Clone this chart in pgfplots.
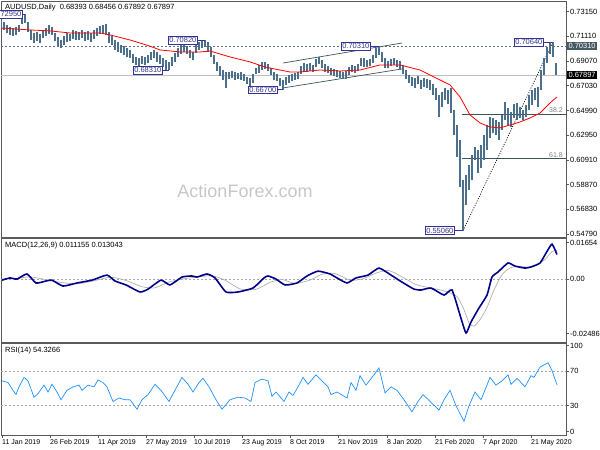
\documentclass[border=0pt]{standalone}
\usepackage{fontspec}
\setmainfont{Liberation Sans}
\usepackage{pgfplots}
\pgfplotsset{compat=1.18}
\usepackage{pgfplotstable}

\definecolor{barc}{RGB}{76,112,140}
\definecolor{frame}{RGB}{90,90,90}
\definecolor{lvl}{RGB}{96,112,128}
\definecolor{chan}{RGB}{60,85,90}
\definecolor{lblb}{RGB}{51,51,160}
\definecolor{lblt}{RGB}{55,55,130}
\definecolor{macdc}{RGB}{0,0,139}
\definecolor{sigc}{RGB}{175,175,175}
\definecolor{rsic}{RGB}{30,144,255}
\definecolor{slate}{RGB}{70,90,100}

% daily bars, low / high
\pgfplotstableread{
x lo hi
1 0.7180 0.7246
4 0.7164 0.7230
7 0.7139 0.7205
10 0.7123 0.7189
13 0.7114 0.7180
16 0.7123 0.7189
19 0.7147 0.7205
22 0.7213 0.7288
25 0.7222 0.7295
28 0.7147 0.7230
31 0.7081 0.7164
34 0.7056 0.7139
37 0.7073 0.7147
40 0.7056 0.7131
43 0.7098 0.7164
46 0.7114 0.7180
49 0.7131 0.7205
52 0.7123 0.7189
55 0.7073 0.7139
58 0.7032 0.7106
61 0.7015 0.7081
64 0.7040 0.7114
67 0.7065 0.7139
70 0.7073 0.7131
73 0.7090 0.7164
76 0.7081 0.7156
79 0.7081 0.7147
82 0.7098 0.7164
85 0.7073 0.7147
88 0.7081 0.7156
91 0.7065 0.7139
94 0.7090 0.7164
97 0.7114 0.7180
100 0.7131 0.7197
103 0.7139 0.7205
106 0.7123 0.7213
109 0.7056 0.7147
112 0.7040 0.7114
115 0.6999 0.7081
118 0.6982 0.7065
121 0.6974 0.7040
124 0.6957 0.7032
127 0.6941 0.7015
130 0.6933 0.6999
133 0.6891 0.6966
136 0.6875 0.6941
139 0.6867 0.6933
142 0.6883 0.6949
145 0.6875 0.6941
148 0.6891 0.6957
151 0.6916 0.6982
154 0.6933 0.6999
157 0.6900 0.6982
160 0.6883 0.6957
163 0.6858 0.6933
166 0.6833 0.6916
169 0.6831 0.6900
172 0.6867 0.6941
175 0.6900 0.6974
178 0.6941 0.7015
181 0.6966 0.7040
184 0.6982 0.7048
187 0.6966 0.7032
190 0.6933 0.6999
193 0.6916 0.6982
196 0.6974 0.7040
199 0.6999 0.7065
202 0.7015 0.7081
205 0.7023 0.7082
208 0.6982 0.7065
211 0.6941 0.7023
214 0.6883 0.6957
217 0.6825 0.6900
220 0.6784 0.6867
223 0.6751 0.6833
226 0.6685 0.6817
229 0.6759 0.6817
232 0.6767 0.6825
235 0.6751 0.6817
238 0.6759 0.6809
241 0.6751 0.6817
244 0.6743 0.6800
247 0.6718 0.6776
250 0.6701 0.6767
253 0.6726 0.6800
256 0.6800 0.6850
259 0.6809 0.6875
262 0.6833 0.6900
265 0.6842 0.6900
268 0.6825 0.6883
271 0.6792 0.6850
274 0.6751 0.6817
277 0.6743 0.6800
280 0.6701 0.6767
283 0.6670 0.6751
286 0.6710 0.6776
289 0.6726 0.6792
292 0.6743 0.6800
295 0.6751 0.6809
298 0.6759 0.6817
301 0.6800 0.6867
304 0.6825 0.6891
307 0.6817 0.6883
310 0.6825 0.6891
313 0.6817 0.6875
316 0.6858 0.6924
319 0.6883 0.6941
322 0.6850 0.6916
325 0.6817 0.6883
328 0.6809 0.6867
331 0.6792 0.6850
334 0.6784 0.6842
337 0.6776 0.6833
340 0.6767 0.6825
343 0.6759 0.6817
346 0.6755 0.6825
349 0.6792 0.6858
352 0.6817 0.6875
355 0.6809 0.6867
358 0.6825 0.6883
361 0.6867 0.6933
364 0.6858 0.6933
367 0.6858 0.6916
370 0.6867 0.6924
373 0.6891 0.6957
376 0.6933 0.7015
379 0.6957 0.7031
382 0.6900 0.6982
385 0.6850 0.6933
388 0.6850 0.6908
391 0.6867 0.6924
394 0.6875 0.6933
397 0.6858 0.6916
400 0.6833 0.6908
403 0.6800 0.6875
406 0.6759 0.6833
409 0.6726 0.6792
412 0.6701 0.6776
415 0.6685 0.6767
418 0.6718 0.6784
421 0.6677 0.6751
424 0.6693 0.6767
427 0.6685 0.6759
430 0.6668 0.6751
433 0.6627 0.6718
436 0.6586 0.6685
439 0.6445 0.6627
442 0.6528 0.6652
445 0.6586 0.6685
448 0.6553 0.6668
451 0.6478 0.6685
454 0.6297 0.6503
457 0.6115 0.6379
460 0.5867 0.6255
463 0.5506 0.5925
466 0.5718 0.5966
469 0.5842 0.6049
472 0.5925 0.6131
475 0.6090 0.6198
478 0.5983 0.6173
481 0.6024 0.6214
484 0.6090 0.6297
487 0.6173 0.6379
490 0.6272 0.6445
493 0.6313 0.6437
496 0.6297 0.6420
499 0.6255 0.6404
502 0.6338 0.6462
505 0.6420 0.6569
508 0.6379 0.6520
511 0.6363 0.6486
514 0.6437 0.6553
517 0.6420 0.6561
520 0.6437 0.6528
523 0.6420 0.6503
526 0.6445 0.6544
529 0.6503 0.6627
532 0.6544 0.6668
535 0.6586 0.6685
538 0.6528 0.6693
541 0.6668 0.6833
544 0.6792 0.6933
547 0.6891 0.7023
550 0.6966 0.7056
553 0.6941 0.7064
556 0.6789 0.6891
}\bars

\pgfplotstableread{
x p
1 0.7180
30 0.7164
50 0.7156
70 0.7139
100 0.7139
110 0.7123
130 0.7081
140 0.7056
150 0.7030
160 0.6999
180 0.6982
200 0.6982
210 0.6990
230 0.6941
250 0.6900
265 0.6858
280 0.6833
290 0.6817
300 0.6817
320 0.6833
340 0.6825
360 0.6833
380 0.6875
400 0.6875
420 0.6833
440 0.6751
450 0.6710
460 0.6611
470 0.6462
480 0.6396
490 0.6363
500 0.6355
510 0.6379
520 0.6404
530 0.6437
540 0.6478
550 0.6561
557 0.6611
}\sma

\pgfplotstableread{
x m
2 -0.0005
10 0.0005
17 0.0000
27 0.0023
36 -0.0018
46 -0.0009
52 -0.0005
63 -0.0032
77 -0.0018
92 -0.0005
107 0.0018
115 -0.0009
126 -0.0027
140 -0.0059
148 -0.0046
161 -0.0005
170 -0.0027
182 0.0009
192 0.0014
197 0.0009
207 0.0023
215 0.0005
226 -0.0059
238 -0.0059
253 -0.0041
264 0.0005
268 0.0014
276 0.0000
285 -0.0027
297 -0.0018
307 0.0014
318 0.0036
330 0.0023
337 0.0005
347 -0.0018
356 0.0005
368 0.0018
379 0.0050
391 0.0018
402 -0.0014
414 -0.0046
421 -0.0050
431 -0.0041
444 -0.0073
452 -0.0050
460 -0.0164
466 -0.0246
471 -0.0196
479 -0.0132
487 -0.0073
492 0.0009
498 0.0032
508 0.0073
515 0.0059
525 0.0050
531 0.0055
540 0.0073
546 0.0118
552 0.0159
557 0.0112
}\macd

\pgfplotstableread{
x s
2 0.0000
17 0.0003
30 0.0010
45 -0.0002
60 -0.0015
77 -0.0022
92 -0.0010
110 0.0008
125 -0.0005
142 -0.0035
155 -0.0040
168 -0.0015
182 0.0000
197 0.0009
212 0.0015
225 -0.0005
240 -0.0045
256 -0.0047
270 -0.0015
282 -0.0002
295 -0.0020
310 -0.0005
322 0.0022
335 0.0025
350 -0.0005
362 0.0000
375 0.0025
388 0.0040
402 0.0010
416 -0.0025
430 -0.0040
445 -0.0055
457 -0.0080
464 -0.0140
469 -0.0200
474 -0.0215
480 -0.0185
487 -0.0130
494 -0.0050
502 0.0020
510 0.0050
518 0.0058
527 0.0055
536 0.0062
545 0.0090
552 0.0125
557 0.0130
}\signal

\pgfplotstableread{
x r
2 59
8 57
13 48
16 43
19 52
24 63
28 59
34 40
38 44
44 54
48 46
52 55
57 46
61 37
67 48
73 52
79 54
82 48
88 54
94 52
98 60
103 57
107 52
113 35
119 39
125 37
130 37
137 26
142 37
148 43
155 55
161 48
169 35
174 46
182 63
188 55
193 46
199 57
203 62
209 52
216 37
222 26
230 37
238 40
245 39
251 35
255 57
262 61
268 59
272 41
276 46
284 35
289 46
293 42
299 54
303 63
308 55
316 66
322 59
328 52
331 43
337 46
347 39
351 57
356 48
360 65
366 54
372 63
379 74
385 45
391 52
397 48
404 37
412 23
418 35
423 43
431 34
439 25
444 37
450 48
456 30
464 12
469 30
475 46
481 37
487 54
490 63
496 54
502 59
508 66
511 55
517 62
525 52
531 65
534 63
540 75
548 80
552 71
557 54.33
}\rsi

\begin{document}
\begin{tikzpicture}
\pgfplotsset{
  mt/.style={scale only axis, width=565pt, xmin=1, xmax=566,
    axis line style={draw=frame, line width=0.8pt},
    tick align=outside, major tick length=3pt,
    tick style={draw=frame, line width=0.6pt},
    ytick pos=right, yticklabel pos=right,
    scaled y ticks=false, scaled x ticks=false,
    ticklabel style={font=\fontsize{7.5}{9}\selectfont, inner sep=1pt},
    clip mode=individual},
}
\tikzset{
  lbl/.style={draw=lblb, fill=white, text=lblt, inner sep=1.3pt, line width=0.6pt,
    font=\fontsize{7.5}{8}\selectfont},
}
% main price panel
\begin{axis}[mt, at={(1pt,-1pt)}, anchor=north west, height=236pt,
  ymin=0.5454, ymax=0.7403, xtick=\empty,
  ytick={0.7315,0.7111,0.6907,0.6703,0.6499,0.6295,0.6091,0.5887,0.5683,0.5479},
  yticklabels={0.73150,0.71110,0.69070,0.67030,0.64990,0.62950,0.60910,0.58870,0.56830,0.54790}]
\node[text=black!22, font=\fontsize{18}{20}\selectfont] at (axis cs:245,0.5834) {ActionForex.com};
\addplot[lvl, line width=0.7pt, dash pattern=on 2pt off 2pt] coordinates {(1,0.7031) (566,0.7031)};
\addplot[black!25, line width=0.7pt] coordinates {(1,0.67897) (566,0.67897)};
\addplot[chan, line width=0.8pt] coordinates {(462,0.6469) (566,0.6469)};
\addplot[chan, line width=0.8pt] coordinates {(462,0.6101) (566,0.6101)};
\addplot[chan, line width=0.7pt] coordinates {(283,0.6891) (402,0.7056)};
\addplot[chan, line width=0.7pt] coordinates {(283,0.6685) (402,0.6842)};
\addplot[black, line width=0.7pt, dash pattern=on 1pt off 1.5pt] coordinates {(463,0.5506) (553,0.7064)};
\addplot[draw=none, mark=none, error bars/.cd, y dir=minus, y explicit, error mark=none,
  error bar style={draw=barc, solid, line width=1.5pt}]
  table[x=x, y=hi, y error expr=\thisrow{hi}-\thisrow{lo}] {\bars};
\addplot[red, line width=0.8pt] table[x=x, y=p] {\sma};
\node[text=gray, anchor=south east, font=\fontsize{7}{8}\selectfont, inner sep=1pt] at (axis cs:564,0.6469) {38.2};
\node[text=gray, anchor=south east, font=\fontsize{7}{8}\selectfont, inner sep=1pt] at (axis cs:564,0.6101) {61.8};
% swing labels
\draw[lblb, line width=0.6pt] (axis cs:23,0.7295) -- (axis cs:25,0.7295);
\node[lbl, anchor=east] at (axis cs:23,0.7295) {0.72950};
\draw[lblb, line width=0.6pt] (axis cs:163,0.6831) -- (axis cs:169,0.6831);
\node[lbl, anchor=east] at (axis cs:163,0.6831) {0.68310};
\draw[lblb, line width=0.6pt] (axis cs:198,0.7082) -- (axis cs:205,0.7082);
\node[lbl, anchor=east] at (axis cs:198,0.7082) {0.70820};
\draw[lblb, line width=0.6pt] (axis cs:278,0.6670) -- (axis cs:283,0.6670);
\node[lbl, anchor=east] at (axis cs:278,0.6670) {0.66700};
\draw[lblb, line width=0.6pt] (axis cs:371,0.7031) -- (axis cs:379,0.7031);
\node[lbl, anchor=east] at (axis cs:371,0.7031) {0.70310};
\draw[lblb, line width=0.6pt] (axis cs:544,0.7064) -- (axis cs:553,0.7064);
\node[lbl, anchor=east] at (axis cs:544,0.7064) {0.70640};
\draw[lblb, line width=0.6pt] (axis cs:455,0.5506) -- (axis cs:463,0.5506);
\node[lbl, anchor=east] at (axis cs:455,0.5506) {0.55060};
% price tags on the scale
\node[fill=slate, text=white, anchor=west, inner sep=1.3pt, font=\fontsize{7.5}{8}\selectfont] at (axis cs:567,0.7031) {0.70310};
\node[fill=black, text=white, anchor=west, inner sep=1.3pt, font=\fontsize{7.5}{8}\selectfont] at (axis cs:567,0.67897) {0.67897};
\node[anchor=north west, font=\fontsize{7.5}{9}\selectfont, inner sep=1pt] at (rel axis cs:0,1) [xshift=3pt, yshift=-2pt] {AUDUSD,Daily\ \ 0.68393 0.68456 0.67892 0.67897};
\end{axis}
% MACD panel
\begin{axis}[mt, at={(1pt,-238pt)}, anchor=north west, height=104pt,
  ymin=-0.0287, ymax=0.0187, xtick=\empty,
  ytick={-0.02486,0,0.01654}, yticklabels={-0.02486,0.00,0.01654}]
\addplot[black!35, line width=0.6pt, dash pattern=on 2pt off 2pt] coordinates {(1,0) (566,0)};
\addplot[sigc, line width=0.7pt, smooth, tension=0.4] table[x=x, y=s] {\signal};
\addplot[macdc, line width=1.6pt, smooth, tension=0.3] table[x=x, y=m] {\macd};
\node[anchor=north west, font=\fontsize{7.5}{9}\selectfont, inner sep=1pt] at (rel axis cs:0,1) [xshift=3pt, yshift=-3pt] {MACD(12,26,9) 0.011155 0.013043};
\end{axis}
% RSI panel
\begin{axis}[mt, at={(1pt,-343pt)}, anchor=north west, height=92pt,
  ymin=-4, ymax=103,
  ytick={0,30,70,100}, yticklabels={0,30,70,100},
  xtick={2,50,98,146,194,242,290,338,387,435,483,531},
  xticklabels={11 Jan 2019,26 Feb 2019,11 Apr 2019,27 May 2019,10 Jul 2019,23 Aug 2019,8 Oct 2019,21 Nov 2019,8 Jan 2020,21 Feb 2020,7 Apr 2020,21 May 2020},
  xtick pos=bottom, xticklabel style={anchor=north west, xshift=-1pt, font=\fontsize{7}{8}\selectfont}]
\addplot[black!35, line width=0.6pt, dash pattern=on 2pt off 2pt] coordinates {(1,70) (566,70)};
\addplot[black!35, line width=0.6pt, dash pattern=on 2pt off 2pt] coordinates {(1,30) (566,30)};
\addplot[rsic, line width=0.7pt] table[x=x, y=r] {\rsi};
\node[anchor=north west, font=\fontsize{7.5}{9}\selectfont, inner sep=1pt] at (rel axis cs:0,1) [xshift=3pt, yshift=-3pt] {RSI(14) 54.3266};
\end{axis}
\pgfresetboundingbox
\path[use as bounding box] (0pt,0pt) rectangle (600pt,-450pt);
\end{tikzpicture}
\end{document}
